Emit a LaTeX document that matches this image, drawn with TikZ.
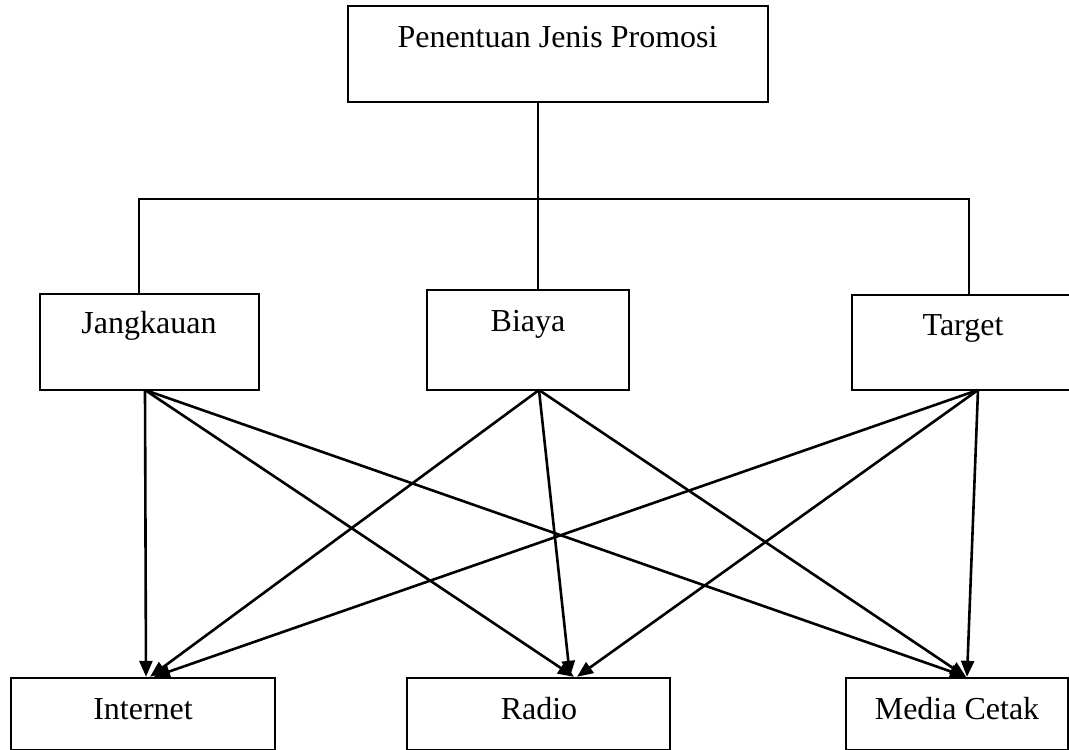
\documentclass[tikz,border=0pt]{standalone}
\usepackage{fontspec}
\setmainfont{Liberation Serif}
\usetikzlibrary{arrows.meta}
\begin{document}
\begin{tikzpicture}[x=1pt,y=-1pt,
  box/.style={draw,line width=2.4pt,rectangle,inner sep=0pt},
  lbl/.style={anchor=base,inner sep=0pt,font=\fontsize{32}{36}\selectfont},
  link/.style={line width=2.2pt},
  arr/.style={line width=2.6pt,-{Triangle[length=16pt,width=13pt]}}]
\useasboundingbox (0,0) rectangle (1069,750);
\begin{scope}
\clip (0,0) rectangle (1069,750);
% boxes
\node[box,minimum width=420pt,minimum height=96pt] (top) at (558,54) {};
\node[box,minimum width=219pt,minimum height=96pt] (jang) at (149.5,342) {};
\node[box,minimum width=202pt,minimum height=100pt] (biaya) at (528,340) {};
\node[box,minimum width=240pt,minimum height=95pt] (target) at (972,342.5) {};
\node[box,minimum width=264pt,minimum height=72pt] (inet) at (143,714) {};
\node[box,minimum width=263pt,minimum height=72pt] (radio) at (538.5,714) {};
\node[box,minimum width=222pt,minimum height=72pt] (media) at (957,714) {};
\end{scope}
% labels
\node[lbl] (ltop) at (557.5,47) {Penentuan Jenis Promosi};
\node[lbl] (ljang) at (149,333) {Jangkauan};
\node[lbl] (lbiaya) at (528,331) {Biaya};
\node[lbl] (ltarget) at (963,335) {Target};
\node[lbl] (linet) at (143,719) {Internet};
\node[lbl] (lradio) at (539,719) {Radio};
\node[lbl] (lmedia) at (957,719) {Media Cetak};
% tree connectors
\coordinate (hl) at (139,199);
\coordinate (hr) at (969,199);
\draw[link] (top.south -| 538,0) -- (biaya.north -| 538,0);
\draw[link] (jang.north -| hl) -- (hl) -- (hr) -- (target.north -| hr);
% arrow ports
\coordinate (js) at (145,390);
\coordinate (bs) at (539,390);
\coordinate (ts) at (978,390);
\draw[arr] (js) -- (inet.north -| 146,0);
\draw[arr] (js) -- (radio.north -| 574,0);
\draw[arr] (js) -- (media.north -| 966,0);
\draw[arr] (bs) -- (inet.north -| 150,0);
\draw[arr] (bs) -- (radio.north -| 570,0);
\draw[arr] (bs) -- (media.north -| 966,0);
\draw[arr] (ts) -- (inet.north -| 154,0);
\draw[arr] (ts) -- (radio.north -| 577,0);
\draw[arr] (ts) -- (media.north -| 967,0);
\end{tikzpicture}
\end{document}
